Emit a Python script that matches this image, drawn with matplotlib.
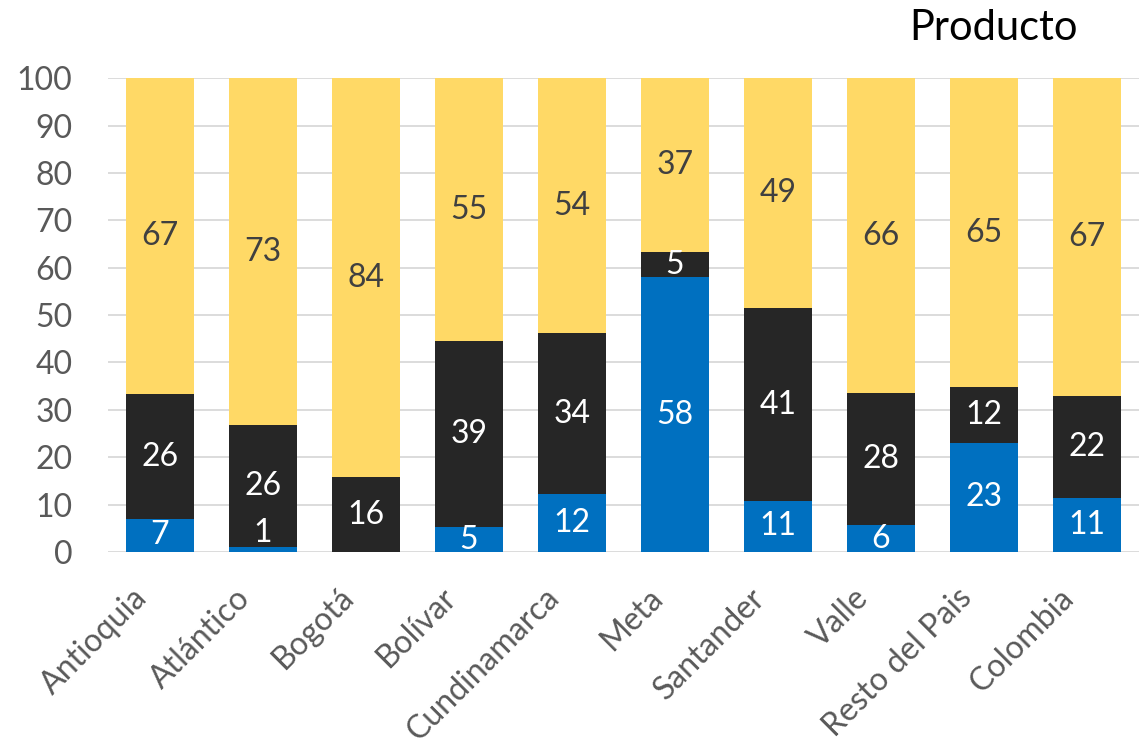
import matplotlib
matplotlib.use('Agg')
from matplotlib import pyplot as plt
from matplotlib.transforms import ScaledTranslation
import numpy as np

# datos (porcentaje por region)
regiones = ['Antioquia', 'Atlántico', 'Bogotá', 'Bolívar', 'Cundinamarca',
            'Meta', 'Santander', 'Valle', 'Resto del Pais', 'Colombia']
serie_azul = [7.0, 1.1, 0.0, 5.2, 12.2, 58.0, 10.8, 5.6, 23.0, 11.4]
serie_negra = [26.3, 25.6, 15.8, 39.4, 34.0, 5.3, 40.6, 28.0, 11.8, 21.6]
serie_amarilla = [66.7, 73.3, 84.2, 55.4, 53.8, 36.7, 48.6, 66.4, 65.2, 67.0]
y_ticks = list(range(0, 101, 10))
titulo = 'Producto'

plt.rcParams['font.family'] = ['Lato', 'DejaVu Sans']

fig = plt.figure(figsize=(11.42, 7.53), dpi=100)
ax = fig.add_axes([0.095, 0.267, 0.902, 0.629])

x = np.arange(len(regiones))
azul = np.array(serie_azul)
negra = np.array(serie_negra)
amarilla = np.array(serie_amarilla)
ancho = 0.66

series = [(azul, np.zeros(len(x)), '#0070C0', 'white'),
          (negra, azul, '#262626', 'white'),
          (amarilla, azul + negra, '#FFD966', '#404040')]

for valores, base, color, color_txt in series:
    ax.bar(x, valores, ancho, bottom=base, color=color, zorder=2)
    for xi, v, b in zip(x, valores, base):
        if v < 0.5:
            continue
        yc = b + v / 2
        if v < 2:
            yc = b + 4  # etiqueta muy pequena, se sube un poco
        ax.text(xi, yc, f'{v:.0f}', ha='center', va='center',
                fontsize=23, color=color_txt, zorder=3)

ax.set_xlim(-0.5, len(x) - 0.5)
ax.set_ylim(0, 100)
ax.set_yticks(y_ticks)
ax.yaxis.grid(True, color='#D9D9D9', linewidth=1.3, zorder=0)
ax.set_axisbelow(True)
for s in ax.spines.values():
    s.set_visible(False)
ax.tick_params(axis='y', length=0, pad=26, labelsize=23, labelcolor='#595959')
ax.tick_params(axis='x', length=0, pad=10, labelsize=23, labelcolor='#595959')
ax.set_xticks(x)
ax.set_xticklabels(regiones, rotation=45, ha='right', va='top', rotation_mode='anchor')
# corrimiento de las etiquetas rotadas (como en excel)
desplazamiento = ScaledTranslation(-0.28, -0.17, fig.dpi_scale_trans)
for lbl in ax.get_xticklabels():
    lbl.set_transform(lbl.get_transform() + desplazamiento)

fig.text(0.87, 0.963, titulo, ha='center', va='center', fontsize=30, color='black')

plt.savefig('out.png', dpi=100)
